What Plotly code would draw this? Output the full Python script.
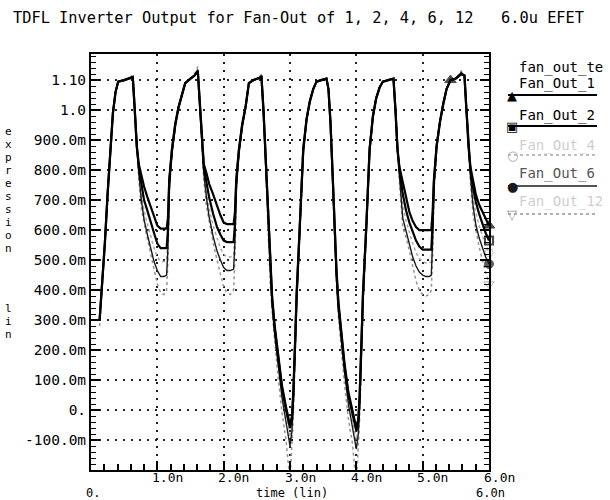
import plotly.graph_objects as go

# ---------------- data (time in ns, output in V) ----------------
t_ns = [
    0.13, 0.17, 0.21, 0.25, 0.29, 0.33, 0.37, 0.41, 0.50, 0.58, 0.63,
    0.66, 0.69, 0.72, 0.76, 0.80, 0.85, 0.90, 0.95, 1.00, 1.05, 1.10, 1.14,
    1.16, 1.18, 1.22, 1.27, 1.32, 1.37, 1.42, 1.50, 1.56, 1.61,
    1.64, 1.67, 1.70, 1.74, 1.78, 1.84, 1.90, 1.95, 2.00, 2.05, 2.10, 2.15,
    2.17, 2.19, 2.23, 2.28, 2.33, 2.38, 2.45, 2.52, 2.57,
    2.60, 2.62, 2.64, 2.67, 2.70, 2.73, 2.77, 2.82, 2.88, 2.94, 3.00,
    3.03, 3.05, 3.08, 3.10, 3.15, 3.20, 3.25, 3.30, 3.35, 3.40, 3.47, 3.55,
    3.58, 3.61, 3.64, 3.67, 3.70, 3.73, 3.77, 3.82, 3.88, 3.94, 4.00,
    4.03, 4.05, 4.08, 4.10, 4.15, 4.20, 4.25, 4.30, 4.35, 4.40, 4.48, 4.56,
    4.59, 4.62, 4.65, 4.70, 4.75, 4.80, 4.85, 4.90, 4.95, 5.00, 5.05, 5.10, 5.13,
    5.15, 5.17, 5.21, 5.26, 5.31, 5.36, 5.42, 5.50, 5.58, 5.63,
    5.66, 5.69, 5.72, 5.76, 5.80, 5.85, 5.90, 5.95, 6.00,
]

fan_out_1 = [
    0.30, 0.42, 0.56, 0.72, 0.87, 0.99, 1.06, 1.095, 1.10, 1.105, 1.11,
    1.00, 0.88, 0.82, 0.78, 0.745, 0.71, 0.68, 0.645, 0.615, 0.605, 0.605, 0.605,
    0.64, 0.77, 0.87, 0.955, 1.01, 1.055, 1.09, 1.105, 1.115, 1.13,
    1.02, 0.90, 0.82, 0.79, 0.755, 0.72, 0.68, 0.65, 0.625, 0.62, 0.62, 0.62,
    0.66, 0.77, 0.87, 0.955, 1.01, 1.09, 1.10, 1.105, 1.11,
    1.00, 0.90, 0.80, 0.63, 0.48, 0.38, 0.28, 0.18, 0.08, 0.01, -0.05,
    -0.02, 0.06, 0.25, 0.39, 0.63, 0.87, 0.97, 1.03, 1.07, 1.095, 1.10, 1.105,
    1.07, 0.96, 0.80, 0.62, 0.47, 0.36, 0.26, 0.16, 0.06, 0.00, -0.06,
    -0.03, 0.05, 0.25, 0.39, 0.61, 0.87, 0.98, 1.04, 1.075, 1.095, 1.10, 1.105,
    1.00, 0.87, 0.81, 0.76, 0.70, 0.66, 0.63, 0.61, 0.60, 0.60, 0.60, 0.60, 0.60,
    0.66, 0.77, 0.88, 0.96, 1.02, 1.07, 1.10, 1.105, 1.12, 1.115,
    1.00, 0.88, 0.81, 0.76, 0.72, 0.685, 0.66, 0.635, 0.615,
]

fan_out_2 = [
    0.30, 0.42, 0.56, 0.72, 0.87, 0.99, 1.06, 1.095, 1.10, 1.105, 1.11,
    1.00, 0.88, 0.81, 0.75, 0.70, 0.665, 0.625, 0.59, 0.555, 0.54, 0.54, 0.54,
    0.60, 0.76, 0.865, 0.95, 1.01, 1.055, 1.09, 1.105, 1.115, 1.13,
    1.02, 0.90, 0.81, 0.76, 0.71, 0.655, 0.61, 0.585, 0.565, 0.56, 0.56, 0.56,
    0.62, 0.76, 0.865, 0.95, 1.01, 1.09, 1.10, 1.105, 1.11,
    1.00, 0.90, 0.80, 0.62, 0.47, 0.37, 0.27, 0.17, 0.07, 0.00, -0.06,
    -0.03, 0.05, 0.24, 0.38, 0.62, 0.87, 0.97, 1.03, 1.07, 1.095, 1.10, 1.105,
    1.07, 0.96, 0.80, 0.61, 0.46, 0.35, 0.25, 0.15, 0.05, -0.01, -0.07,
    -0.04, 0.04, 0.24, 0.38, 0.61, 0.87, 0.98, 1.04, 1.075, 1.095, 1.10, 1.105,
    1.00, 0.87, 0.80, 0.72, 0.665, 0.625, 0.595, 0.565, 0.545, 0.535, 0.535, 0.535, 0.535,
    0.62, 0.76, 0.88, 0.96, 1.02, 1.07, 1.10, 1.105, 1.12, 1.115,
    1.00, 0.88, 0.80, 0.74, 0.695, 0.655, 0.62, 0.59, 0.565,
]

fan_out_4 = [
    0.30, 0.42, 0.56, 0.72, 0.87, 0.99, 1.06, 1.095, 1.10, 1.105, 1.11,
    1.00, 0.88, 0.80, 0.72, 0.665, 0.62, 0.58, 0.54, 0.51, 0.495, 0.495, 0.50,
    0.57, 0.75, 0.86, 0.95, 1.01, 1.055, 1.09, 1.105, 1.115, 1.135,
    1.02, 0.90, 0.80, 0.73, 0.675, 0.615, 0.57, 0.54, 0.52, 0.51, 0.51, 0.515,
    0.59, 0.75, 0.86, 0.95, 1.01, 1.09, 1.10, 1.105, 1.115,
    1.00, 0.90, 0.79, 0.61, 0.46, 0.36, 0.26, 0.16, 0.06, -0.02, -0.09,
    -0.05, 0.04, 0.23, 0.37, 0.62, 0.86, 0.97, 1.03, 1.07, 1.095, 1.10, 1.105,
    1.07, 0.96, 0.79, 0.60, 0.45, 0.34, 0.24, 0.14, 0.04, -0.03, -0.10,
    -0.06, 0.03, 0.23, 0.37, 0.60, 0.86, 0.98, 1.04, 1.075, 1.095, 1.10, 1.105,
    1.00, 0.87, 0.79, 0.68, 0.63, 0.59, 0.555, 0.525, 0.505, 0.495, 0.49, 0.49, 0.495,
    0.59, 0.75, 0.88, 0.96, 1.02, 1.07, 1.10, 1.105, 1.125, 1.115,
    1.00, 0.88, 0.79, 0.71, 0.66, 0.615, 0.58, 0.55, 0.525,
]

fan_out_6 = [
    0.30, 0.42, 0.56, 0.72, 0.87, 0.99, 1.06, 1.095, 1.10, 1.105, 1.11,
    1.00, 0.88, 0.79, 0.70, 0.635, 0.585, 0.535, 0.495, 0.465, 0.445, 0.445, 0.45,
    0.54, 0.74, 0.855, 0.945, 1.01, 1.055, 1.09, 1.105, 1.115, 1.135,
    1.02, 0.90, 0.79, 0.71, 0.645, 0.58, 0.53, 0.50, 0.475, 0.465, 0.465, 0.47,
    0.56, 0.74, 0.855, 0.945, 1.01, 1.09, 1.10, 1.105, 1.115,
    1.00, 0.90, 0.79, 0.60, 0.45, 0.35, 0.25, 0.15, 0.04, -0.04, -0.12,
    -0.07, 0.02, 0.22, 0.36, 0.61, 0.86, 0.97, 1.03, 1.07, 1.095, 1.10, 1.105,
    1.07, 0.96, 0.79, 0.59, 0.44, 0.33, 0.23, 0.13, 0.02, -0.05, -0.13,
    -0.08, 0.01, 0.22, 0.36, 0.60, 0.86, 0.98, 1.04, 1.075, 1.095, 1.10, 1.105,
    1.00, 0.87, 0.78, 0.64, 0.595, 0.55, 0.51, 0.48, 0.46, 0.45, 0.445, 0.445, 0.45,
    0.56, 0.74, 0.88, 0.96, 1.02, 1.07, 1.10, 1.105, 1.125, 1.115,
    1.00, 0.88, 0.78, 0.68, 0.62, 0.575, 0.54, 0.51, 0.487,
]

fan_out_12 = [
    0.28, 0.40, 0.55, 0.71, 0.86, 0.98, 1.055, 1.095, 1.10, 1.105, 1.12,
    1.00, 0.87, 0.77, 0.67, 0.62, 0.57, 0.52, 0.47, 0.42, 0.39, 0.385, 0.40,
    0.50, 0.72, 0.85, 0.94, 1.005, 1.05, 1.09, 1.105, 1.12, 1.145,
    1.02, 0.89, 0.77, 0.68, 0.63, 0.56, 0.50, 0.45, 0.41, 0.39, 0.385, 0.40,
    0.51, 0.72, 0.85, 0.94, 1.005, 1.09, 1.10, 1.105, 1.12,
    1.00, 0.89, 0.78, 0.58, 0.43, 0.33, 0.22, 0.11, -0.01, -0.10, -0.24,
    -0.12, -0.02, 0.19, 0.34, 0.60, 0.85, 0.96, 1.03, 1.07, 1.095, 1.10, 1.105,
    1.07, 0.95, 0.78, 0.57, 0.42, 0.31, 0.20, 0.09, -0.03, -0.11, -0.25,
    -0.13, -0.03, 0.19, 0.34, 0.59, 0.85, 0.97, 1.04, 1.075, 1.095, 1.10, 1.105,
    1.00, 0.86, 0.76, 0.61, 0.575, 0.53, 0.48, 0.43, 0.40, 0.385, 0.38, 0.385, 0.40,
    0.51, 0.72, 0.87, 0.95, 1.015, 1.07, 1.10, 1.105, 1.13, 1.115,
    1.00, 0.87, 0.76, 0.65, 0.60, 0.545, 0.50, 0.46, 0.42,
]

series_names = ["Fan_Out_1", "Fan_Out_2", "Fan_Out_4", "Fan_Out_6", "Fan_Out_12"]
series_values = [fan_out_1, fan_out_2, fan_out_4, fan_out_6, fan_out_12]

y_tick_vals = [1.10, 1.0, 0.9, 0.8, 0.7, 0.6, 0.5, 0.4, 0.3, 0.2, 0.1, 0.0, -0.1]
y_tick_text = ["1.10", "1.0", "900.0m", "800.0m", "700.0m", "600.0m", "500.0m",
               "400.0m", "300.0m", "200.0m", "100.0m", "0.", "-100.0m"]
x_tick_vals = [1, 2, 3, 4, 5, 6]
x_tick_text = ["1.0n", "2.0n", "3.0n", "4.0n", "5.0n", "6.0n"]

title_text = "TDFL Inverter Output for Fan-Out of 1, 2, 4, 6, 12   6.0u EFET"
legend_header = "fan_out_te"

# ---------------- layout geometry (pixels) ----------------
FONT = "DejaVu Sans Mono"
W, H = 610, 500
ML, MR, MT, MB = 91, 121, 54, 30
PW, PH = W - ML - MR, H - MT - MB
Y_RANGE = [-0.2, 1.187]
X_RANGE = [0, 6]


def px_x(px):
    return (px - ML) / PW


def px_y(py):
    return (H - MB - py) / PH


# minor tick positions (axis decoration)
x_minor = [i * 0.2 for i in range(31) if i % 5 != 0]
y_minor = [round(-0.2 + i * 0.02, 3) for i in range(70) if i % 5 != 0]

styles = {
    "Fan_Out_1": dict(color="#000000", width=2.2, dash="solid", symbol="triangle-up",
                      msize=10, mline=1, text="#000000", glyph="\u25B2", marks=[5.42, 6.00]),
    "Fan_Out_2": dict(color="#000000", width=2.2, dash="solid", symbol="square-open",
                      msize=8, mline=2, text="#000000", glyph="\u25A3", marks=[6.00]),
    "Fan_Out_4": dict(color="#a8a8a8", width=1.5, dash="dot", symbol="circle-open",
                      msize=8, mline=1, text="#cfcfcf", glyph="\u25CB", marks=[6.00]),
    "Fan_Out_6": dict(color="#1a1a1a", width=1.4, dash="solid", symbol="circle",
                      msize=9, mline=1, text="#555555", glyph="\u25CF", marks=[6.00]),
    "Fan_Out_12": dict(color="#959595", width=1.5, dash="dot", symbol="triangle-down-open",
                       msize=9, mline=1, text="#cfcfcf", glyph="\u25BD", marks=[6.00]),
}

fig = go.Figure()
draw_order = ["Fan_Out_12", "Fan_Out_4", "Fan_Out_6", "Fan_Out_2", "Fan_Out_1"]
for name in draw_order:
    vals = series_values[series_names.index(name)]
    st = styles[name]
    sizes = [st["msize"] if t in st["marks"] else 0 for t in t_ns]
    fig.add_trace(go.Scatter(
        x=t_ns, y=vals, name=name, mode="lines+markers",
        line=dict(color=st["color"], width=st["width"], dash=st["dash"]),
        marker=dict(symbol=st["symbol"], size=sizes, color=st["color"],
                    line=dict(color=st["color"], width=st["mline"])),
        cliponaxis=False, showlegend=False,
    ))

axis_common = dict(
    showline=True, linecolor="black", linewidth=2,
    ticks="inside", tickcolor="black", tickwidth=1.5,
    showgrid=True, gridcolor="#222222", gridwidth=1.6, griddash="2px,6px",
    zeroline=False,
)

fig.update_xaxes(
    **axis_common, range=X_RANGE, mirror=True, ticklen=9,
    tickmode="array", tickvals=x_tick_vals, showticklabels=False,
    minor=dict(tickmode="array", tickvals=x_minor, ticks="inside", ticklen=6,
               tickcolor="black", tickwidth=1.5, showgrid=False),
)
fig.update_yaxes(
    **axis_common, range=Y_RANGE, mirror="ticks", ticklen=9,
    tickmode="array", tickvals=y_tick_vals, ticktext=y_tick_text,
    tickfont=dict(family=FONT, size=14.5, color="black"),
    minor=dict(tickmode="array", tickvals=y_minor, ticks="inside", ticklen=5,
               tickcolor="black", tickwidth=1.3, showgrid=False),
)

annotations = []
shapes = []

# x tick labels (first row), placed at the axis' data positions
for v, txt in zip(x_tick_vals, x_tick_text):
    annotations.append(dict(text=txt, x=v, xref="x", xshift=10, y=px_y(477.5), yref="paper",
                            xanchor="center", yanchor="middle", showarrow=False,
                            borderpad=0, font=dict(family=FONT, size=13, color="black")))

# bottom row labels
for txt, px in [("0.", 93), ("time (lin)", 292), ("6.0n", 490)]:
    annotations.append(dict(text=txt, x=px_x(px), y=px_y(492.5), xref="paper", yref="paper",
                            xanchor="center", yanchor="middle", showarrow=False,
                            borderpad=0, font=dict(family=FONT, size=12, color="black")))

# stacked y-axis label
for i, ch in enumerate("expression"):
    annotations.append(dict(text=ch, x=px_x(8), y=px_y(131.5 + 13 * i), xref="paper",
                            yref="paper", xanchor="center", yanchor="middle",
                            showarrow=False, font=dict(family=FONT, size=11, color="black")))
for i, ch in enumerate("lin"):
    annotations.append(dict(text=ch, x=px_x(8), y=px_y(308 + 13 * i), xref="paper",
                            yref="paper", xanchor="center", yanchor="middle",
                            showarrow=False, font=dict(family=FONT, size=11, color="black")))

# custom legend
annotations.append(dict(text=legend_header, x=px_x(517), y=px_y(67), xref="paper",
                        yref="paper", xanchor="left", yanchor="middle", showarrow=False,
                        font=dict(family=FONT, size=14, color="black")))
legend_rows = [(84, 95), (115, 126), (145, 155), (173, 186), (202, 214)]
for name, (ty, ly) in zip(series_names, legend_rows):
    st = styles[name]
    annotations.append(dict(text=name, x=px_x(517), y=px_y(ty), xref="paper", yref="paper",
                            xanchor="left", yanchor="middle", showarrow=False,
                            font=dict(family=FONT, size=14, color=st["text"])))
    shapes.append(dict(type="line", xref="paper", yref="paper",
                       x0=px_x(508), x1=px_x(597), y0=px_y(ly), y1=px_y(ly),
                       line=dict(color=st["color"], width=st["width"], dash=st["dash"])))
    annotations.append(dict(text=st["glyph"], x=px_x(512), y=px_y(ly), xref="paper",
                            yref="paper", xanchor="center", yanchor="middle",
                            showarrow=False,
                            font=dict(family="DejaVu Sans", size=13, color=st["color"])))

fig.update_layout(
    width=W, height=H,
    margin=dict(l=ML, r=MR, t=MT, b=MB, pad=0),
    paper_bgcolor="white", plot_bgcolor="white",
    title=dict(text=title_text, x=13 / W, xref="container", xanchor="left",
               y=1 - 18 / H, yref="container", yanchor="middle",
               font=dict(family=FONT, size=15.3, color="black")),
    annotations=annotations, shapes=shapes, showlegend=False,
)

fig.write_html("out.html")
